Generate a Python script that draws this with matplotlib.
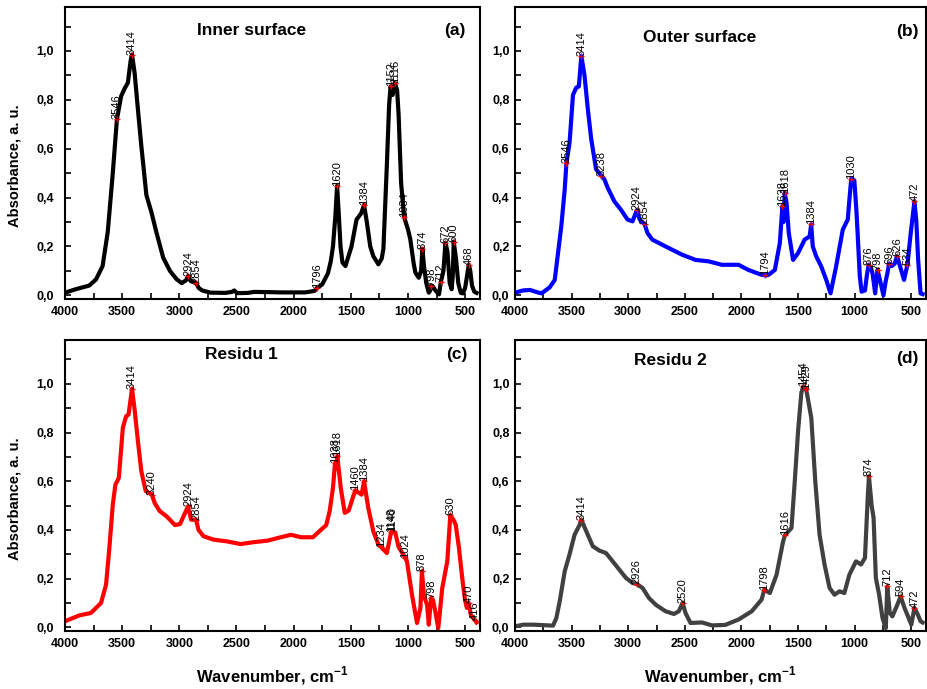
import numpy as np
import matplotlib
matplotlib.use("Agg")
import matplotlib.pyplot as plt
from matplotlib.ticker import MultipleLocator, FuncFormatter

plt.rcParams['font.family'] = ['Liberation Sans', 'DejaVu Sans']
plt.rcParams['mathtext.fontset'] = 'custom'
plt.rcParams['mathtext.bf'] = 'Liberation Sans:bold'
plt.rcParams['mathtext.rm'] = 'Liberation Sans'

# FTIR spectra (wavenumber in cm-1, absorbance in a.u.)
wn_inner = [4000, 3906, 3788, 3729, 3671, 3626, 3582, 3546, 3509, 3480, 3450, 3426, 3414, 3391,
            3362, 3332, 3288, 3244, 3200, 3141, 3082, 3024, 2979, 2940, 2924, 2900, 2854, 2830,
            2800, 2729, 2600, 2540, 2520, 2494, 2400, 2347, 2200, 2100, 1994, 1900, 1818, 1796,
            1750, 1700, 1675, 1656, 1635, 1620, 1605, 1590, 1573, 1547, 1494, 1450, 1410, 1384,
            1360, 1330, 1303, 1259, 1230, 1215, 1185, 1165, 1152, 1135, 1116, 1095, 1082, 1060,
            1034, 1000, 980, 950, 935, 906, 885, 874, 860, 840, 818, 805, 798, 780, 760, 729,
            712, 690, 672, 655, 635, 618, 608, 600, 580, 560, 538, 520, 500, 480, 468, 455, 440,
            420, 400]
abs_inner = [0.011, 0.025, 0.04, 0.065, 0.12, 0.26, 0.50, 0.72, 0.815, 0.845, 0.87, 0.96, 0.985,
             0.91, 0.76, 0.61, 0.41, 0.34, 0.257, 0.154, 0.10, 0.066, 0.05, 0.062, 0.079, 0.058,
             0.05, 0.03, 0.02, 0.011, 0.01, 0.014, 0.02, 0.009, 0.01, 0.014, 0.013, 0.012, 0.012,
             0.012, 0.018, 0.03, 0.045, 0.09, 0.14, 0.20, 0.325, 0.448, 0.33, 0.2, 0.134, 0.12,
             0.20, 0.31, 0.335, 0.37, 0.30, 0.2, 0.16, 0.127, 0.15, 0.19, 0.53, 0.78, 0.855, 0.82,
             0.87, 0.84, 0.74, 0.46, 0.32, 0.27, 0.23, 0.13, 0.093, 0.072, 0.10, 0.19, 0.12, 0.05,
             0.011, 0.02, 0.04, 0.035, 0.02, 0.004, 0.055, 0.1, 0.215, 0.18, 0.05, 0.025, 0.08,
             0.22, 0.15, 0.05, 0.01, 0.008, 0.03, 0.09, 0.125, 0.1, 0.04, 0.015, 0.01]
peaks_inner = [3546, 3414, 2924, 2854, 1796, 1620, 1384, 1152, 1116, 1034, 874, 798, 712, 672,
               600, 468]

wn_outer = [4000, 3930, 3868, 3800, 3766, 3693, 3649, 3620, 3591, 3561, 3546, 3518, 3488, 3459,
            3436, 3414, 3386, 3357, 3327, 3284, 3238, 3211, 3181, 3123, 3064, 3006, 2962, 2924,
            2898, 2854, 2830, 2787, 2670, 2523, 2406, 2289, 2173, 2026, 1939, 1822, 1794, 1763,
            1705, 1661, 1638, 1628, 1618, 1602, 1582, 1544, 1500, 1442, 1398, 1384, 1370, 1340,
            1295, 1251, 1213, 1164, 1105, 1061, 1045, 1030, 1003, 985, 974, 955, 939, 909, 890,
            876, 855, 842, 819, 798, 775, 746, 725, 711, 696, 672, 646, 626, 600, 564, 534, 506,
            472, 455, 440, 418, 400]
abs_outer = [0.011, 0.02, 0.022, 0.012, 0.008, 0.033, 0.063, 0.173, 0.283, 0.433, 0.54, 0.625,
             0.82, 0.85, 0.855, 0.98, 0.90, 0.763, 0.64, 0.516, 0.49, 0.475, 0.44, 0.385, 0.35,
             0.31, 0.303, 0.348, 0.31, 0.29, 0.255, 0.228, 0.20, 0.166, 0.145, 0.139, 0.125,
             0.125, 0.104, 0.084, 0.082, 0.083, 0.104, 0.214, 0.365, 0.30, 0.42, 0.38, 0.255,
             0.145, 0.173, 0.228, 0.241, 0.29, 0.2, 0.16, 0.118, 0.063, 0.008, 0.118, 0.269,
             0.31, 0.40, 0.478, 0.47, 0.35, 0.255, 0.08, 0.015, 0.02, 0.09, 0.125, 0.11, 0.09,
             0.008, 0.104, 0.06, 0.0, 0.06, 0.09, 0.13, 0.12, 0.13, 0.16, 0.12, 0.063, 0.125,
             0.25, 0.385, 0.3, 0.15, 0.008, 0.005]
peaks_outer = [3546, 3414, 3238, 2924, 2854, 1794, 1638, 1618, 1384, 1030, 876, 798, 696, 626,
               534, 472]

wn_res1 = [4000, 3876, 3774, 3685, 3641, 3612, 3582, 3559, 3529, 3494, 3465, 3444, 3414, 3391,
           3362, 3332, 3294, 3240, 3215, 3171, 3112, 3038, 2994, 2950, 2924, 2897, 2854, 2832,
           2788, 2700, 2582, 2465, 2347, 2229, 2112, 2024, 1935, 1832, 1774, 1715, 1685, 1656,
           1638, 1628, 1618, 1588, 1553, 1518, 1479, 1460, 1406, 1384, 1347, 1303, 1259, 1234,
           1185, 1148, 1140, 1112, 1082, 1024, 1009, 965, 921, 891, 878, 860, 832, 818, 798, 780,
           759, 735, 700, 656, 630, 600, 582, 555, 538, 520, 500, 485, 470, 450, 430, 416, 400]
abs_res1 = [0.025, 0.049, 0.059, 0.10, 0.175, 0.326, 0.504, 0.586, 0.614, 0.82, 0.867, 0.874,
            0.98, 0.894, 0.764, 0.64, 0.56, 0.545, 0.51, 0.477, 0.456, 0.42, 0.424, 0.47, 0.497,
            0.442, 0.442, 0.40, 0.374, 0.36, 0.353, 0.342, 0.35, 0.356, 0.37, 0.38, 0.37, 0.37,
            0.395, 0.42, 0.477, 0.573, 0.675, 0.65, 0.703, 0.573, 0.47, 0.48, 0.538, 0.562,
            0.545, 0.60, 0.49, 0.394, 0.34, 0.33, 0.305, 0.39, 0.395, 0.39, 0.33, 0.285, 0.271,
            0.134, 0.018, 0.08, 0.23, 0.13, 0.09, 0.011, 0.12, 0.11, 0.06, -0.003, 0.162, 0.271,
            0.46, 0.44, 0.42, 0.33, 0.257, 0.18, 0.11, 0.08, 0.10, 0.05, 0.04, 0.03, 0.02]
peaks_res1 = [3414, 3240, 2924, 2854, 1638, 1618, 1460, 1384, 1234, 1148, 1140, 1024, 878, 798,
              630, 470, 416]

wn_res2 = [4000, 3927, 3839, 3664, 3635, 3605, 3561, 3518, 3474, 3430, 3414, 3371, 3313, 3254,
           3196, 3137, 3079, 3020, 2962, 2926, 2874, 2816, 2757, 2670, 2596, 2553, 2520, 2494,
           2450, 2348, 2260, 2143, 2026, 1909, 1822, 1798, 1749, 1690, 1632, 1616, 1558, 1529,
           1500, 1471, 1454, 1429, 1383, 1348, 1310, 1266, 1222, 1178, 1134, 1091, 1047, 988,
           944, 909, 885, 874, 850, 833, 813, 784, 754, 725, 712, 690, 667, 623, 594, 560, 535,
           500, 472, 440, 418, 400]
abs_res2 = [0.004, 0.011, 0.011, 0.007, 0.038, 0.107, 0.23, 0.30, 0.38, 0.42, 0.442, 0.395, 0.333,
            0.315, 0.305, 0.271, 0.237, 0.203, 0.182, 0.178, 0.162, 0.12, 0.093, 0.066, 0.055,
            0.066, 0.10, 0.059, 0.018, 0.02, 0.008, 0.01, 0.032, 0.066, 0.114, 0.155, 0.141,
            0.216, 0.353, 0.378, 0.408, 0.60, 0.805, 0.963, 0.99, 0.98, 0.86, 0.60, 0.38, 0.258,
            0.162, 0.134, 0.148, 0.141, 0.216, 0.271, 0.258, 0.285, 0.53, 0.62, 0.50, 0.45, 0.203,
            0.134, 0.038, -0.003, 0.168, 0.06, 0.045, 0.093, 0.127, 0.08, 0.052, 0.011, 0.08,
            0.05, 0.025, 0.02]
peaks_res2 = [3414, 2926, 2520, 1798, 1616, 1454, 1429, 874, 712, 594, 472]

W, H = 928, 689
fig = plt.figure(figsize=(W / 100, H / 100), dpi=100)


def add_panel(left, top, right, bottom):
    return fig.add_axes([left / W, 1 - bottom / H, (right - left) / W, (bottom - top) / H])


panels = [
    (add_panel(65, 7, 480, 299), wn_inner, abs_inner, peaks_inner, 'black', 'Inner surface', (0.45, 0.92), '(a)', (0.94, 0.92)),
    (add_panel(515, 7, 926, 299), wn_outer, abs_outer, peaks_outer, '#0000ff', 'Outer surface', (0.45, 0.895), '(b)', (0.955, 0.915)),
    (add_panel(65, 340, 480, 631), wn_res1, abs_res1, peaks_res1, '#ff0000', 'Residu 1', (0.424, 0.95), '(c)', (0.945, 0.95)),
    (add_panel(515, 340, 926, 631), wn_res2, abs_res2, peaks_res2, '#404040', 'Residu 2', (0.377, 0.93), '(d)', (0.954, 0.935)),
]

comma = FuncFormatter(lambda v, pos: f"{v:.1f}".replace('.', ','))

for i, (ax, wn, ab, peaks, color, title, tpos, tag, gpos) in enumerate(panels):
    ax.plot(wn, ab, color=color, lw=3, solid_joinstyle='round')
    # peak markers and their wavenumber labels
    pk_y = np.interp(peaks, wn[::-1], ab[::-1])
    ax.plot(peaks, pk_y, '+', color='red', ms=5, mew=1)
    for p, y in zip(peaks, pk_y):
        ax.annotate(str(p), (p, y), xytext=(0, 0), textcoords='offset points',
                    rotation=90, ha='center', va='bottom', fontsize=8)

    ax.set_xlim(4000, 370)
    ax.set_ylim(-0.015, 1.18)
    ax.xaxis.set_major_locator(MultipleLocator(500))
    ax.xaxis.set_minor_locator(MultipleLocator(250))
    ax.yaxis.set_major_locator(MultipleLocator(0.2))
    ax.yaxis.set_minor_locator(MultipleLocator(0.1))
    ax.yaxis.set_major_formatter(comma)
    ypad = 8 if i % 2 == 0 else 4
    ax.tick_params(which='both', direction='in', top=False, right=False,
                   labelsize=9, width=1.2, length=4)
    ax.tick_params(axis='y', which='both', pad=ypad)
    ax.tick_params(axis='x', which='both', pad=5)
    for lab in ax.get_xticklabels() + ax.get_yticklabels():
        lab.set_fontweight('bold')
    for sp in ax.spines.values():
        sp.set_linewidth(1.5)

    ax.text(tpos[0], tpos[1], title, transform=ax.transAxes, ha='center', va='center',
            fontsize=12.5, fontweight='bold')
    ax.text(gpos[0], gpos[1], tag, transform=ax.transAxes, ha='center', va='center',
            fontsize=12.5, fontweight='bold')

    if i % 2 == 0:
        ax.set_ylabel('Absorbance, a. u.', fontsize=10.5, fontweight='bold')
        ax.yaxis.set_label_coords(-0.105, 0.455)
    if i >= 2:
        ax.set_xlabel('Wavenumber, cm$^{\\mathbf{-1}}$', fontsize=12, fontweight='bold')
        ax.xaxis.set_label_coords(0.5, -0.115)

fig.savefig('out.png', dpi=100)
